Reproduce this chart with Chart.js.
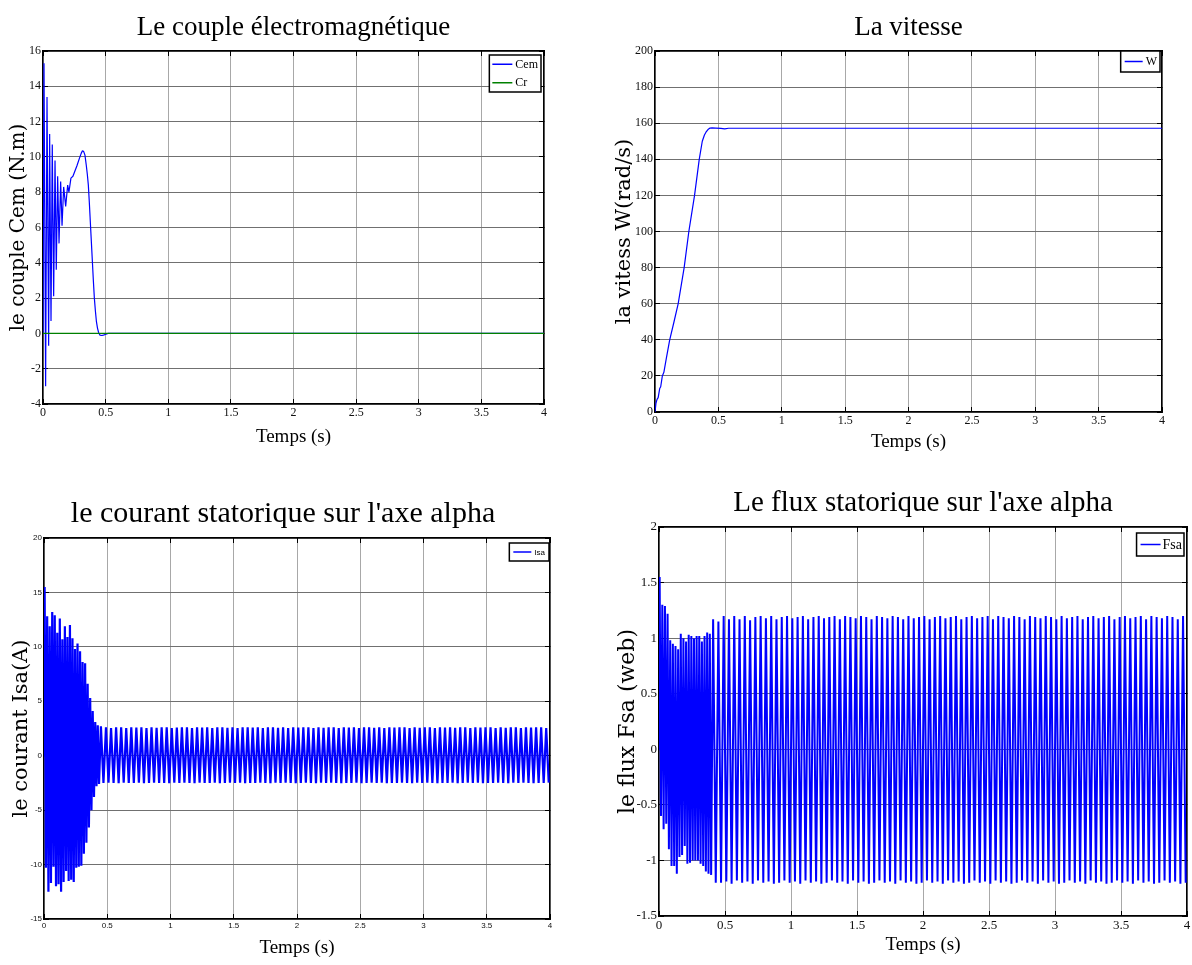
<!DOCTYPE html>
<html><head><meta charset="utf-8">
<script src="https://cdn.jsdelivr.net/npm/chart.js@4.4.1/dist/chart.umd.min.js"></script>
<style>
html,body{margin:0;padding:0;background:#fff;width:1192px;height:965px;overflow:hidden;position:relative;}
canvas{position:absolute;}
</style></head><body>
<canvas id="c1" width="590" height="470" style="left:0px;top:0px"></canvas>
<canvas id="c2" width="596" height="470" style="left:596px;top:0px"></canvas>
<canvas id="c3" width="566" height="495" style="left:0px;top:470px"></canvas>
<canvas id="c4" width="596" height="495" style="left:596px;top:470px"></canvas>
<script>
// ---------- tick values ----------
const xTicks = [0, 0.5, 1, 1.5, 2, 2.5, 3, 3.5, 4];
const cemYTicks = [-4, -2, 0, 2, 4, 6, 8, 10, 12, 14, 16];
const wYTicks = [0, 20, 40, 60, 80, 100, 120, 140, 160, 180, 200];
const isaYTicks = [-15, -10, -5, 0, 5, 10, 15, 20];
const fsaYTicks = [-1.5, -1, -0.5, 0, 0.5, 1, 1.5, 2];

// ---------- couple électromagnétique ----------
const cemTime = [0, 0.008, 0.021, 0.032, 0.045, 0.053, 0.064, 0.074, 0.085, 0.096, 0.106, 0.117, 0.128, 0.141, 0.152, 0.165, 0.181, 0.197, 0.207, 0.223, 0.239, 0.255, 0.271, 0.29, 0.305, 0.315, 0.325, 0.335, 0.346, 0.354, 0.362, 0.37, 0.378, 0.386, 0.394, 0.402, 0.41, 0.418, 0.426, 0.435, 0.444, 0.455, 0.47, 0.49, 0.52, 4];
const cemValues = [0, 15.3, -3.0, 13.4, -0.7, 11.3, 0.7, 10.7, 2.1, 9.8, 3.6, 8.9, 5.1, 8.6, 6.1, 8.3, 7.2, 8.4, 8.0, 8.8, 8.9, 9.2, 9.5, 9.9, 10.2, 10.35, 10.3, 10.1, 9.5, 9.0, 8.4, 7.4, 6.3, 5.2, 4.1, 3.0, 2.0, 1.3, 0.7, 0.3, 0.05, -0.1, -0.12, -0.08, 0, 0];
const crTime = [0, 4];
const crValues = [0, 0];

// ---------- vitesse ----------
const wTime = [0, 0.008, 0.016, 0.025, 0.037, 0.045, 0.058, 0.07, 0.09, 0.116, 0.15, 0.183, 0.23, 0.267, 0.312, 0.349, 0.373, 0.39, 0.402, 0.418, 0.434, 0.45, 0.48, 0.52, 0.55, 0.58, 1, 2, 3, 4];
const wValues = [0, 5, 7, 8, 13, 14, 20, 22, 30, 40, 50, 60, 80, 100, 120, 140, 150, 153.5, 155, 156.5, 157.3, 157.4, 157.3, 157.1, 156.9, 157.2, 157.2, 157.2, 157.2, 157.2];

// ---------- courant Isa : crêtes successives ----------
const isaPeriodTransient = 0.02;
const isaPeriodSteady = 0.04;
const isaTopTransient = [15.5, 12.8, 11.9, 13.2, 12.9, 11.3, 12.6, 10.7, 11.9, 10.9, 12.0, 10.8, 9.8, 10.3, 9.6, 8.6, 8.5, 6.6, 5.3, 4.1, 3.1, 2.8];
const isaBottomTransient = [-10.3, -12.5, -11.7, -10.2, -12.0, -11.8, -12.5, -11.6, -10.6, -11.5, -11.4, -11.6, -10.3, -10.2, -10.1, -9.0, -8.0, -6.6, -5.0, -3.8, -2.8, -2.6];
const isaTopSteady = [2.7, 2.6, 2.55, 2.6, 2.62, 2.55, 2.6, 2.58, 2.62, 2.55,
  2.6, 2.57, 2.6, 2.62, 2.55, 2.58, 2.6, 2.6, 2.55, 2.62,
  2.58, 2.6, 2.55, 2.6, 2.62, 2.57, 2.6, 2.55, 2.6, 2.6,
  2.58, 2.62, 2.55, 2.6, 2.6, 2.57, 2.62, 2.55, 2.6, 2.58,
  2.6, 2.62, 2.55, 2.6, 2.57, 2.6, 2.62, 2.55, 2.6, 2.58,
  2.6, 2.55, 2.62, 2.6, 2.57, 2.6, 2.55, 2.62, 2.58, 2.6,
  2.6, 2.55, 2.62, 2.57, 2.6, 2.6, 2.55, 2.62, 2.58, 2.6,
  2.57, 2.6, 2.62, 2.55, 2.6, 2.58, 2.6, 2.62, 2.55, 2.6,
  2.57, 2.6, 2.62, 2.55, 2.6, 2.58, 2.6, 2.62, 2.55];
const isaBottomSteady = [-2.5, -2.47, -2.5, -2.53, -2.47, -2.5, -2.5, -2.47, -2.53, -2.5,
  -2.47, -2.5, -2.5, -2.53, -2.47, -2.5, -2.48, -2.5, -2.53, -2.47,
  -2.5, -2.5, -2.47, -2.53, -2.5, -2.48, -2.5, -2.47, -2.53, -2.5,
  -2.5, -2.47, -2.5, -2.53, -2.48, -2.5, -2.47, -2.5, -2.53, -2.5,
  -2.47, -2.5, -2.53, -2.48, -2.5, -2.47, -2.5, -2.53, -2.5, -2.5,
  -2.47, -2.53, -2.5, -2.48, -2.5, -2.47, -2.53, -2.5, -2.5, -2.47,
  -2.5, -2.53, -2.48, -2.5, -2.47, -2.5, -2.53, -2.5, -2.5, -2.47,
  -2.53, -2.5, -2.48, -2.5, -2.47, -2.53, -2.5, -2.5, -2.47, -2.5,
  -2.53, -2.48, -2.5, -2.47, -2.5, -2.53, -2.5, -2.5, -2.47];

// ---------- flux Fsa : crêtes successives ----------
const fsaPeriodTransient = 0.02;
const fsaPeriodSteady = 0.04;
const fsaTopTransient = [1.55, 1.3, 1.29, 1.22, 0.98, 0.95, 0.93, 0.9, 1.04, 1.0, 0.97, 1.03, 1.02, 1.0, 1.02, 1.02, 0.97, 1.02, 1.05, 1.04];
const fsaBottomTransient = [-0.6, -0.72, -0.67, -0.9, -1.05, -1.05, -1.12, -0.97, -0.95, -0.87, -1.03, -1.02, -1.0, -1.0, -1.0, -1.03, -1.05, -1.1, -1.12, -1.13];
const fsaTopSteady = [1.17, 1.15, 1.2, 1.17, 1.2, 1.17, 1.2, 1.16, 1.19, 1.2,
  1.18, 1.2, 1.17, 1.19, 1.2, 1.18, 1.19, 1.2, 1.17, 1.19,
  1.2, 1.18, 1.19, 1.2, 1.17, 1.2, 1.19, 1.18, 1.2, 1.19,
  1.17, 1.2, 1.19, 1.18, 1.2, 1.19, 1.17, 1.2, 1.18, 1.19,
  1.2, 1.17, 1.19, 1.2, 1.18, 1.19, 1.2, 1.17, 1.19, 1.2,
  1.18, 1.19, 1.2, 1.17, 1.2, 1.19, 1.18, 1.2, 1.19, 1.17,
  1.2, 1.19, 1.18, 1.2, 1.19, 1.17, 1.2, 1.18, 1.19, 1.2,
  1.17, 1.19, 1.2, 1.18, 1.19, 1.2, 1.17, 1.19, 1.2, 1.18,
  1.19, 1.2, 1.17, 1.2, 1.19, 1.18, 1.2, 1.19, 1.17, 1.2];
const fsaBottomSteady = [-1.2, -1.2, -1.19, -1.21, -1.18, -1.2, -1.19, -1.21, -1.18, -1.2,
  -1.19, -1.21, -1.2, -1.18, -1.2, -1.19, -1.21, -1.18, -1.2, -1.19,
  -1.21, -1.2, -1.18, -1.2, -1.19, -1.21, -1.18, -1.2, -1.19, -1.21,
  -1.2, -1.18, -1.2, -1.19, -1.21, -1.18, -1.2, -1.19, -1.21, -1.2,
  -1.18, -1.2, -1.19, -1.21, -1.18, -1.2, -1.19, -1.21, -1.2, -1.18,
  -1.2, -1.19, -1.21, -1.18, -1.2, -1.19, -1.21, -1.2, -1.18, -1.2,
  -1.19, -1.21, -1.18, -1.2, -1.19, -1.21, -1.2, -1.18, -1.2, -1.19,
  -1.21, -1.18, -1.2, -1.19, -1.21, -1.2, -1.18, -1.2, -1.19, -1.21,
  -1.18, -1.2, -1.19, -1.21, -1.2, -1.18, -1.2, -1.19, -1.21, -1.2];

// ---------- helpers ----------
function pairs(ts, vs) { return ts.map((t, i) => ({x: t, y: vs[i]})); }
function peaksToPoints(segments) {
  const pts = [{x: 0, y: 0}];
  let t = 0;
  segments.forEach(seg => {
    seg.tops.forEach((v, i) => {
      pts.push({x: t + seg.period * 0.25, y: v});
      pts.push({x: t + seg.period * 0.75, y: seg.bottoms[i]});
      t += seg.period;
    });
  });
  return pts;
}

const boxLegend = {
  id: 'boxLegend',
  afterDatasetsDraw(chart, args, o) {
    if (!o || !o.show) return;
    const {ctx, chartArea} = chart;
    const items = chart.data.datasets.map(d => ({label: d.label, color: d.borderColor}));
    ctx.save();
    ctx.font = o.font;
    const tw = Math.max(...items.map(it => ctx.measureText(it.label).width));
    const w = o.padL + o.lineLen + o.gap + tw + o.padR;
    const h = o.height;
    const x = chartArea.right - o.right - w;
    const y = chartArea.top + o.top;
    ctx.fillStyle = '#fff';
    ctx.fillRect(x, y, w, h);
    ctx.strokeStyle = '#000';
    ctx.lineWidth = 1.5;
    ctx.strokeRect(x, y, w, h);
    const rowH = h / items.length;
    items.forEach((it, i) => {
      const cy = y + rowH * (i + 0.5);
      ctx.strokeStyle = it.color;
      ctx.lineWidth = 1.5;
      ctx.beginPath();
      ctx.moveTo(x + o.padL, cy);
      ctx.lineTo(x + o.padL + o.lineLen, cy);
      ctx.stroke();
      ctx.fillStyle = '#000';
      ctx.textAlign = 'left';
      ctx.textBaseline = 'middle';
      ctx.fillText(it.label, x + o.padL + o.lineLen + o.gap, cy + 0.5);
    });
    ctx.restore();
  }
};
Chart.register(boxLegend);

function scales(p) {
  const setTicks = arr => (s => { s.ticks = arr.map(v => ({value: v})); });
  const inner = {display: true, drawOnChartArea: false, drawTicks: true, tickLength: -5, tickColor: '#000', tickWidth: 1};
  const border = {display: true, color: '#000', width: 1.5};
  return {
    x: {
      type: 'linear', position: 'bottom', min: 0, max: 4,
      afterBuildTicks: setTicks(xTicks),
      afterFit: s => { s.height = p.xH; s.paddingLeft = 0; s.paddingRight = 0; },
      grid: {color: '#a8a8a8', lineWidth: 1, drawTicks: true, tickLength: -5, tickColor: '#000', tickWidth: 1},
      border: border,
      ticks: {padding: p.xTickPad, color: '#111', font: p.tickFont, maxRotation: 0, autoSkip: false, callback: v => String(v)},
      title: {display: true, text: 'Temps (s)', color: '#000', font: {family: 'Liberation Serif', size: 19, lineHeight: 1.2}, padding: {top: 0, bottom: p.xTitlePad}}
    },
    y: {
      type: 'linear', position: 'left', min: p.yMin, max: p.yMax,
      afterBuildTicks: setTicks(p.yTicks),
      afterFit: s => { s.width = p.yW; s.paddingTop = 0; s.paddingBottom = 0; },
      grid: {color: '#707070', lineWidth: 1, drawTicks: true, tickLength: -5, tickColor: '#000', tickWidth: 1},
      border: border,
      ticks: {padding: p.yTickPad, color: '#111', font: p.tickFont, autoSkip: false, callback: v => String(v)},
      title: {display: true, text: p.yTitle, color: '#000', font: {family: 'DejaVu Serif', size: p.yTitleSize, lineHeight: 1.2}, padding: {top: p.yTitlePad, bottom: 0}}
    },
    x2: {
      type: 'linear', position: 'top', min: 0, max: 4,
      afterBuildTicks: setTicks(xTicks),
      afterFit: s => { s.height = 0; s.paddingLeft = 0; s.paddingRight = 0; },
      grid: inner, border: border, ticks: {display: false}
    },
    y2: {
      type: 'linear', position: 'right', min: p.yMin, max: p.yMax,
      afterBuildTicks: setTicks(p.yTicks),
      afterFit: s => { s.width = 0; s.paddingTop = 0; s.paddingBottom = 0; },
      grid: inner, border: border, ticks: {display: false}
    }
  };
}

function lineDs(label, data, color, order, width) {
  return {label, data, borderColor: color, backgroundColor: color, borderWidth: width || 1,
    pointRadius: 0, tension: 0, fill: false, order: order, borderJoinStyle: 'bevel', xAxisID: 'x', yAxisID: 'y'};
}

function make(id, p, datasets) {
  return new Chart(document.getElementById(id), {
    type: 'line',
    data: {datasets},
    options: {
      responsive: false, animation: false, devicePixelRatio: 1,
      parsing: false, normalized: true,
      layout: {padding: p.layoutPad},
      plugins: {
        legend: {display: false},
        tooltip: {enabled: false},
        title: {display: true, text: p.title, fullSize: p.titleFull, color: '#000',
          font: {family: 'Liberation Serif', size: p.titleSize, weight: 'normal', lineHeight: 1.2},
          padding: {top: p.titlePadTop, bottom: p.titlePadBottom}},
        boxLegend: p.legend
      },
      scales: scales(p)
    }
  });
}

// ---------- panel 1 ----------
make('c1', {
  title: 'Le couple électromagnétique', titleSize: 27, titleFull: false, titlePadTop: 12, titlePadBottom: 6.6,
  layoutPad: {left: 0, right: 46, top: 0, bottom: 0},
  xH: 66, yW: 43, xTickPad: 7, yTickPad: 7, xTitlePad: 21.6,
  tickFont: {family: 'Liberation Serif', size: 12},
  yMin: -4, yMax: 16, yTicks: cemYTicks,
  yTitle: 'le couple Cem (N.m)', yTitleSize: 20, yTitlePad: 7,
  legend: {show: true, right: 3, top: 4, height: 37, padL: 3, lineLen: 20, gap: 3, padR: 3, font: '12px "Liberation Serif"'}
}, [
  lineDs('Cem', pairs(cemTime, cemValues), '#0000ff', 1, 1.2),
  lineDs('Cr', pairs(crTime, crValues), '#008000', 0, 1.2)
]);

// ---------- panel 2 ----------
make('c2', {
  title: 'La vitesse', titleSize: 27, titleFull: false, titlePadTop: 12, titlePadBottom: 6.6,
  layoutPad: {left: 0, right: 30, top: 0, bottom: 0},
  xH: 58, yW: 59, xTickPad: 7, yTickPad: 7, xTitlePad: 16.6,
  tickFont: {family: 'Liberation Serif', size: 12},
  yMin: 0, yMax: 200, yTicks: wYTicks,
  yTitle: 'la vitess W(rad/s)', yTitleSize: 21, yTitlePad: 16.4,
  legend: {show: true, right: 2, top: 0, height: 21, padL: 4, lineLen: 18, gap: 3, padR: 3, font: '12px "Liberation Serif"'}
}, [
  lineDs('W', pairs(wTime, wValues), '#0000ff', 0, 1.2)
]);

// ---------- panel 3 ----------
make('c3', {
  title: "le courant statorique sur l'axe alpha", titleSize: 30, titleFull: true, titlePadTop: 26, titlePadBottom: 6,
  layoutPad: {left: 16, right: 16, top: 0, bottom: 0},
  xH: 46, yW: 28, xTickPad: 7, yTickPad: 7, xTitlePad: 5.6,
  tickFont: {family: 'Liberation Sans Narrow, Liberation Sans', size: 8},
  yMin: -15, yMax: 20, yTicks: isaYTicks,
  yTitle: 'le courant Isa(A)', yTitleSize: 21, yTitlePad: -6.6,
  legend: {show: true, right: 1, top: 5, height: 18, padL: 4, lineLen: 18, gap: 3, padR: 4, font: '8px "Liberation Sans Narrow", "Liberation Sans"'}
}, [
  lineDs('Isa', peaksToPoints([
    {period: isaPeriodTransient, tops: isaTopTransient, bottoms: isaBottomTransient},
    {period: isaPeriodSteady, tops: isaTopSteady, bottoms: isaBottomSteady}
  ]), '#0000ff', 0, 2.2)
]);

// ---------- panel 4 ----------
make('c4', {
  title: "Le flux statorique sur l'axe alpha", titleSize: 29, titleFull: false, titlePadTop: 15.6, titlePadBottom: 6.6,
  layoutPad: {left: 0, right: 5, top: 0, bottom: 0},
  xH: 49, yW: 63, xTickPad: 7, yTickPad: 7, xTitlePad: 8.6,
  tickFont: {family: 'Liberation Serif', size: 13},
  yMin: -1.5, yMax: 2, yTicks: fsaYTicks,
  yTitle: 'le flux Fsa (web)', yTitleSize: 22, yTitlePad: 18.8,
  legend: {show: true, right: 3, top: 6, height: 23, padL: 4, lineLen: 20, gap: 2, padR: 2, font: '14px "Liberation Serif"'}
}, [
  lineDs('Fsa', peaksToPoints([
    {period: fsaPeriodTransient, tops: fsaTopTransient, bottoms: fsaBottomTransient},
    {period: fsaPeriodSteady, tops: fsaTopSteady, bottoms: fsaBottomSteady}
  ]), '#0000ff', 0, 2.0)
]);
</script>
</body></html>
